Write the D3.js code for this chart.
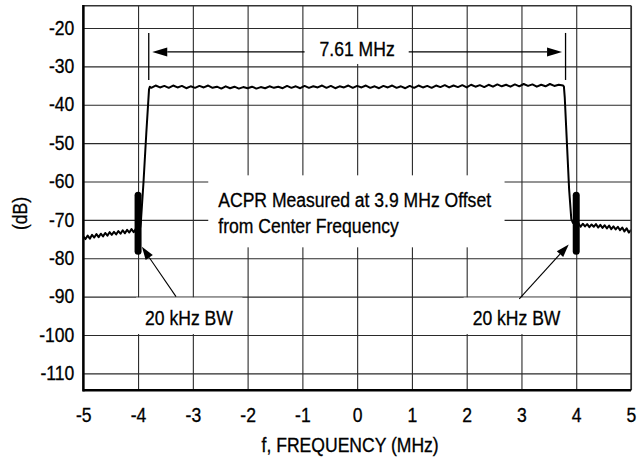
<!DOCTYPE html>
<html>
<head>
<meta charset="utf-8">
<style>
  body { margin: 0; background: #fff; }
  svg { display: block; background: #fff; }
  text { font-family: "Liberation Sans", Arial, sans-serif; font-size: 19.5px; fill: #000; stroke: #000; stroke-width: 0.3px; }
  .axis .domain { display: none; }
  .grid line { stroke: #2a2a2a; stroke-width: 1.1; }
</style>
<script src="https://cdn.jsdelivr.net/npm/d3@7"></script>
</head>
<body>
<svg width="643" height="463"></svg>
<script>
// ---- values ----
var xTicks = [-5, -4, -3, -2, -1, 0, 1, 2, 3, 4, 5];
var yTicks = [-20, -30, -40, -50, -60, -70, -80, -90, -100, -110];

// noise floor left of the channel, one sample every 0.04 MHz from -5.00
var floorLeftStart = -5.00, floorStep = 0.04;
var floorLeftDb = [-74.3, -75.0, -74.1, -74.9, -73.9, -74.6, -73.7, -74.5, -73.6, -74.3,
                   -73.4, -74.1, -73.2, -73.9, -73.1, -73.8, -72.9, -73.6, -72.7, -73.5,
                   -72.6, -73.3, -72.4, -73.2, -72.3, -72.9, -71.9];

// lower skirt  [MHz, dB]
var edgeLeft = [[-3.95, -70.8], [-3.90, -60.0], [-3.85, -47.5], [-3.80, -36.0], [-3.785, -35.3]];

// channel top, one sample every 0.08 MHz from -3.76
var passStart = -3.76, passStep = 0.08;
var passDb = [-35.6, -35.0, -35.5, -35.1, -35.6, -35.0, -35.5, -35.1, -35.7, -35.2,
              -35.6, -35.1, -35.5, -35.0, -35.6, -35.3, -35.8, -35.2, -35.7, -35.3,
              -35.8, -35.4, -35.7, -35.3, -35.8, -35.4, -35.7, -35.2, -35.6, -35.3,
              -35.7, -35.1, -35.6, -35.2, -35.7, -35.1, -35.6, -35.2, -35.5, -35.0,
              -35.6, -35.1, -35.7, -35.2, -35.5, -35.0, -35.6, -35.1, -35.5, -35.0,
              -35.6, -35.2, -35.7, -35.1, -35.5, -35.0, -35.6, -35.2, -35.7, -35.1,
              -35.6, -35.0, -35.5, -35.1, -35.6, -35.0, -35.4, -34.9, -35.5, -35.0,
              -35.4, -34.9, -35.5, -34.8, -35.3, -34.9, -35.4, -34.8, -35.3, -34.7,
              -35.2, -34.8, -35.3, -34.7, -35.2, -34.6, -35.1, -34.7, -35.3, -34.8,
              -35.2, -34.6, -35.1, -34.8, -35.0];

// upper skirt  [MHz, dB]
var edgeRight = [[3.775, -35.3], [3.79, -38.0], [3.83, -50.0], [3.87, -62.0], [3.91, -69.8], [3.94, -70.8]];

// noise floor right of the channel, every 0.04 MHz from 3.96
var floorRightStart = 3.96;
var floorRightDb = [-70.9, -71.6, -70.9, -71.8, -71.0, -71.7, -71.1, -71.9, -71.2, -71.8,
                    -71.1, -72.0, -71.3, -72.1, -71.4, -72.2, -71.5, -72.4, -71.7, -72.5,
                    -71.8, -72.7, -72.0, -73.0, -72.2, -73.3, -72.6];

// annotations (data units)
var spanLo = -3.805, spanHi = 3.805, spanDb = -26.25, spanLabel = "7.61 MHz";
var markers = [{f: -4, top: -63.6, bottom: -78.2}, {f: 4, top: -63.6, bottom: -78.2}];
var bwNotes = [{label: "20 kHz BW", f: -3.07, db: -97.4, from: [-3.307, -90.0], tip: [-3.93, -77.0]},
               {label: "20 kHz BW", f: 2.91, db: -97.4, from: [2.96, -90.6], tip: [3.863, -76.4]}];
var acprLines = ["ACPR Measured at 3.9 MHz Offset", "from Center Frequency"];
var acprAt = [-2.536, -66.73];

// ---- chart ----
var svg = d3.select("svg"),
    margin = {top: 5.7, right: 12, bottom: 72.7, left: 83.3},
    width = +svg.attr("width") - margin.left - margin.right,
    height = +svg.attr("height") - margin.top - margin.bottom,
    g = svg.append("g").attr("transform", "translate(" + margin.left + "," + margin.top + ")");

var x = d3.scaleLinear().domain([-5, 5]).range([0, width]);
var y = d3.scaleLinear().domain([-114.4, -14.2]).range([height, 0]);

function condense(sel) {
  sel.each(function() {
    var w = this.getComputedTextLength();
    d3.select(this).attr("textLength", w * 0.9).attr("lengthAdjust", "spacingAndGlyphs");
  });
}

// grid + tick labels
g.append("g")
  .attr("class", "axis grid")
  .attr("transform", "translate(0," + height + ")")
  .call(d3.axisBottom(x).tickValues(xTicks).tickSize(-height).tickFormat(String))
  .selectAll("text")
  .attr("y", 31.7)
  .attr("dy", null);

g.append("g")
  .attr("class", "axis grid")
  .call(d3.axisLeft(y).tickValues(yTicks).tickSize(-width).tickPadding(9).tickFormat(String));

// trace
var trace = [];
floorLeftDb.forEach(function(d, i) { trace.push([floorLeftStart + i * floorStep, d]); });
edgeLeft.forEach(function(d) { trace.push(d); });
passDb.forEach(function(d, i) { trace.push([passStart + i * passStep, d]); });
edgeRight.forEach(function(d) { trace.push(d); });
floorRightDb.forEach(function(d, i) { trace.push([floorRightStart + i * floorStep, d]); });

g.append("clipPath").attr("id", "plot")
  .append("rect").attr("width", width).attr("height", height);

g.append("path")
  .datum(trace)
  .attr("clip-path", "url(#plot)")
  .attr("fill", "none")
  .attr("stroke", "#000")
  .attr("stroke-width", 2)
  .attr("stroke-linejoin", "round")
  .attr("d", d3.line().x(function(d) { return x(d[0]); }).y(function(d) { return y(d[1]); }));

var notes = g.append("g");

function arrowHead(tip, from, len, half) {
  var dx = tip[0] - from[0], dy = tip[1] - from[1], d = Math.hypot(dx, dy);
  var ux = dx / d, uy = dy / d;
  var bx = tip[0] - ux * len, by = tip[1] - uy * len;
  var pts = [tip, [bx - uy * half, by + ux * half], [bx + uy * half, by - ux * half]];
  notes.append("path").attr("d", "M" + pts.join("L") + "Z").attr("fill", "#000");
  return [bx, by];
}

// 7.61 MHz span
var sy = y(spanDb);
var spanText = notes.append("text")
  .attr("x", x(0)).attr("y", y(-27.3))
  .attr("text-anchor", "middle")
  .text(spanLabel)
  .call(condense);
var sb = spanText.node().getBBox();
var sBase = y(-27.3);
notes.insert("rect", "text")
  .attr("x", sb.x - 15).attr("width", sb.width + 29)
  .attr("y", sBase - 27).attr("height", 35)
  .attr("fill", "#fff");

[spanLo, spanHi].forEach(function(f) {
  notes.append("line")
    .attr("x1", x(f)).attr("x2", x(f))
    .attr("y1", y(-21.3)).attr("y2", y(-33.55))
    .attr("stroke", "#000").attr("stroke-width", 1.3);
});
var lTip = [x(spanLo) + 3.5, sy], lFrom = [sb.x - 15, sy];
var lb = arrowHead(lTip, lFrom, 15, 4.5);
notes.append("line").attr("x1", lFrom[0]).attr("x2", lb[0]).attr("y1", sy).attr("y2", sy)
  .attr("stroke", "#000").attr("stroke-width", 1.2);
var rTip = [x(spanHi) - 3.5, sy], rFrom = [sb.x + sb.width + 14, sy];
var rb = arrowHead(rTip, rFrom, 15, 4.5);
notes.append("line").attr("x1", rFrom[0]).attr("x2", rb[0]).attr("y1", sy).attr("y2", sy)
  .attr("stroke", "#000").attr("stroke-width", 1.2);

// ACPR note
var acprBox = notes.append("rect").attr("fill", "#fff");
var acprText = acprLines.map(function(t, i) {
  return notes.append("text")
    .attr("x", x(acprAt[0])).attr("y", y(acprAt[1]) + i * 26)
    .text(t)
    .call(condense);
});
var ab = acprText[0].node().getBBox();
acprBox
  .attr("x", ab.x - 10).attr("width", ab.width + 23)
  .attr("y", y(acprAt[1]) - 32).attr("height", 26 + 46);

// 20 kHz BW notes
bwNotes.forEach(function(n) {
  var box = notes.append("rect").attr("fill", "#fff");
  var t = notes.append("text")
    .attr("x", x(n.f)).attr("y", y(n.db))
    .attr("text-anchor", "middle")
    .text(n.label)
    .call(condense);
  var b = t.node().getBBox();
  box.attr("x", b.x - 9).attr("width", b.width + 18)
    .attr("y", y(n.db) - 27.5).attr("height", 36.5);
  var tip = [x(n.tip[0]), y(n.tip[1])], from = [x(n.from[0]), y(n.from[1])];
  var base = arrowHead(tip, from, 13, 4.3);
  notes.append("line")
    .attr("x1", from[0]).attr("y1", from[1]).attr("x2", base[0]).attr("y2", base[1])
    .attr("stroke", "#000").attr("stroke-width", 1.1);
});

// measurement bandwidth markers
g.selectAll(".marker")
  .data(markers)
  .enter().append("line")
  .attr("class", "marker")
  .attr("x1", function(d) { return x(d.f); })
  .attr("x2", function(d) { return x(d.f); })
  .attr("y1", function(d) { return y(d.top); })
  .attr("y2", function(d) { return y(d.bottom); })
  .attr("stroke", "#000")
  .attr("stroke-width", 7)
  .attr("stroke-linecap", "round");

// frame: heavy left and bottom, light top and right
g.append("line").attr("x1", 0).attr("x2", width).attr("y1", 0).attr("y2", 0)
  .attr("stroke", "#333").attr("stroke-width", 1.4);
g.append("line").attr("x1", width).attr("x2", width).attr("y1", 0).attr("y2", height)
  .attr("stroke", "#333").attr("stroke-width", 1.4);
g.append("line").attr("x1", 0).attr("x2", 0).attr("y1", -0.7).attr("y2", height + 1.2)
  .attr("stroke", "#000").attr("stroke-width", 2.4);
g.append("line").attr("x1", 0).attr("x2", width).attr("y1", height).attr("y2", height)
  .attr("stroke", "#000").attr("stroke-width", 2.4);

// axis titles
svg.append("text")
  .attr("x", margin.left + width / 2 - 7).attr("y", 452)
  .attr("text-anchor", "middle")
  .text("f, FREQUENCY (MHz)");

svg.append("text")
  .attr("transform", "translate(27,213.5) rotate(-90)")
  .attr("text-anchor", "middle")
  .text("(dB)");

svg.selectAll(".axis text").call(condense);
svg.selectAll("svg > text").call(condense);
</script>
</body>
</html>
